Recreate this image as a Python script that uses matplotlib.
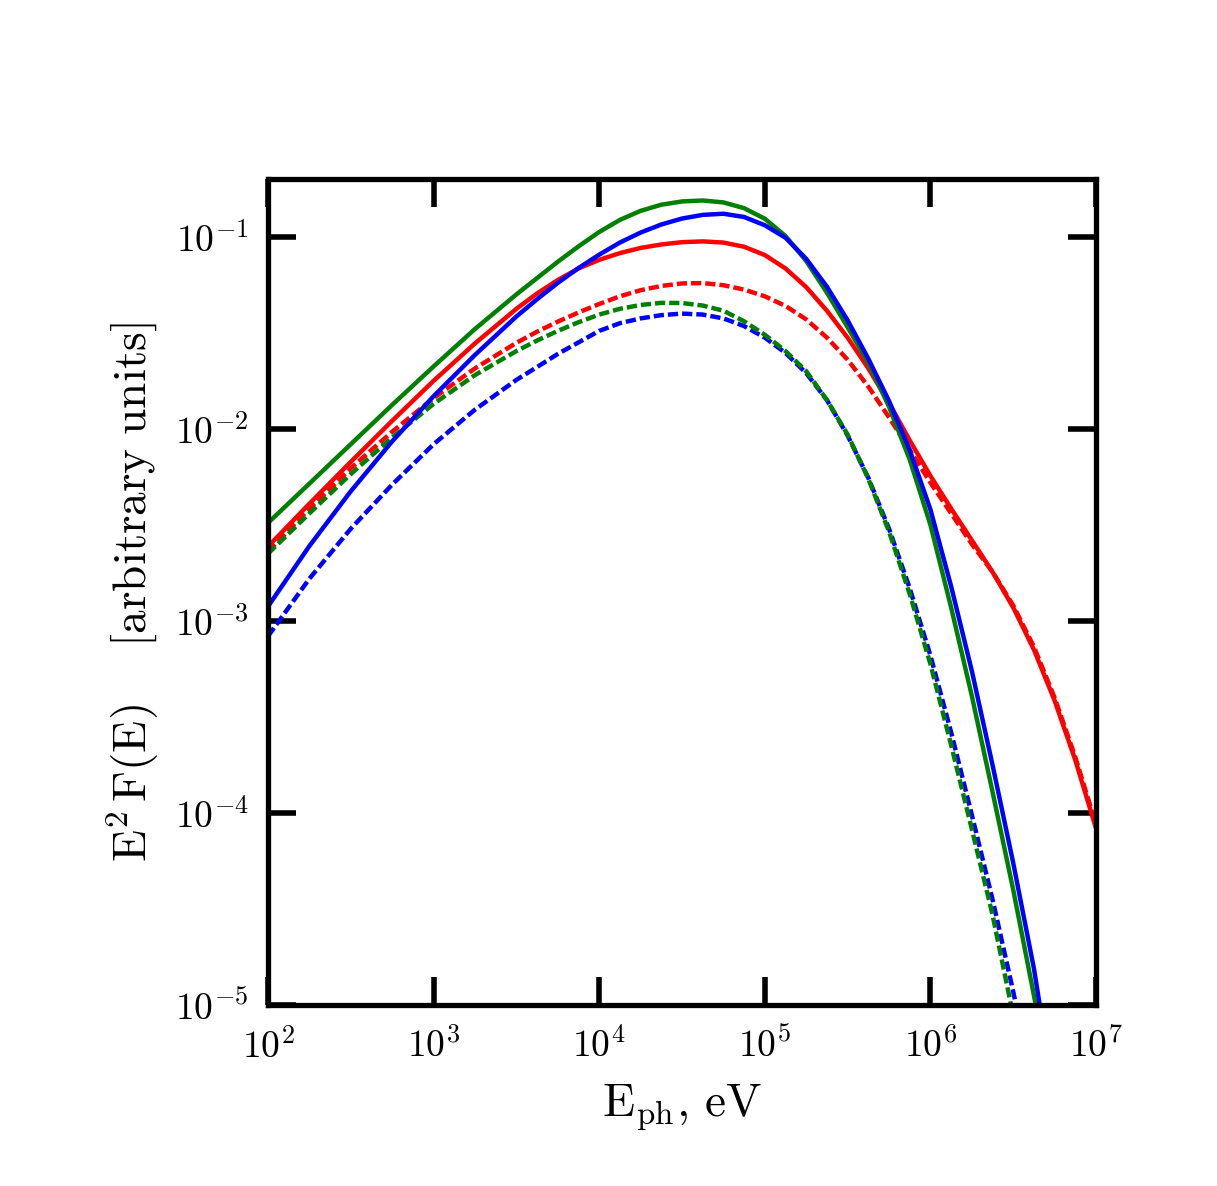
import numpy as np
import matplotlib
matplotlib.use("Agg")
import matplotlib.pyplot as plt

# ---------------------------------------------
# data (log10 E [eV], log10 E^2 F)
# ---------------------------------------------
log_e = [2.0, 2.25, 2.5, 2.75, 3.0, 3.25, 3.5, 3.625, 3.75, 3.875, 4.0,
         4.125, 4.25, 4.375, 4.5, 4.625, 4.75, 4.875, 5.0, 5.125, 5.25,
         5.375, 5.5, 5.625, 5.75, 5.875, 6.0, 6.125, 6.25, 6.375, 6.5,
         6.625, 6.75, 6.875, 7.0]

# solid curves
green_solid_e = log_e[:32] + [6.636]
green_solid = [-2.49, -2.285, -2.08, -1.875, -1.675, -1.48, -1.30, -1.215,
               -1.13, -1.05, -0.975, -0.912, -0.865, -0.833, -0.816, -0.811,
               -0.821, -0.851, -0.906, -0.996, -1.126, -1.291, -1.471, -1.655,
               -1.885, -2.16, -2.50, -2.93, -3.39, -3.89, -4.40, -4.95, -5.0]

blue_solid_e = log_e[:32] + [6.66]
blue_solid = [-2.925, -2.61, -2.325, -2.065, -1.83, -1.615, -1.415, -1.325,
              -1.24, -1.163, -1.093, -1.03, -0.978, -0.936, -0.905, -0.886,
              -0.88, -0.897, -0.94, -1.005, -1.115, -1.26, -1.435, -1.635,
              -1.855, -2.11, -2.42, -2.82, -3.26, -3.75, -4.26, -4.81, -5.0]

red_solid_e = log_e
red_solid = [-2.613, -2.39, -2.172, -1.958, -1.75, -1.555, -1.375, -1.295,
             -1.225, -1.165, -1.12, -1.085, -1.058, -1.04, -1.028, -1.024,
             -1.03, -1.052, -1.095, -1.165, -1.262, -1.385, -1.525, -1.685,
             -1.865, -2.06, -2.245, -2.415, -2.58, -2.745, -2.93, -3.15,
             -3.415, -3.725, -4.08]

# dashed curves
red_dash_e = log_e
red_dash = [-2.64, -2.415, -2.205, -2.015, -1.84, -1.685, -1.552, -1.494,
            -1.442, -1.394, -1.35, -1.31, -1.278, -1.256, -1.243, -1.241,
            -1.252, -1.275, -1.31, -1.36, -1.43, -1.525, -1.64, -1.78,
            -1.94, -2.11, -2.28, -2.44, -2.60, -2.745, -2.92, -3.135,
            -3.40, -3.71, -4.06]

green_dash_e = log_e[:30] + [6.487]
green_dash = [-2.65, -2.44, -2.235, -2.045, -1.87, -1.72, -1.595, -1.54,
              -1.49, -1.445, -1.405, -1.375, -1.355, -1.344, -1.345, -1.358,
              -1.385, -1.44, -1.51, -1.595, -1.70, -1.85, -2.03, -2.26,
              -2.535, -2.86, -3.225, -3.646, -4.084, -4.53, -5.0]

blue_dash_e = log_e[:31] + [6.517]
blue_dash = [-3.08, -2.78, -2.52, -2.29, -2.08, -1.90, -1.745, -1.678,
             -1.61, -1.55, -1.49, -1.45, -1.425, -1.408, -1.40, -1.405,
             -1.425, -1.465, -1.525, -1.605, -1.71, -1.85, -2.035, -2.255,
             -2.52, -2.83, -3.18, -3.58, -4.01, -4.45, -4.93, -5.0]

xticks = [1e2, 1e3, 1e4, 1e5, 1e6, 1e7]
xticklabels = [r'$10^{2}$', r'$10^{3}$', r'$10^{4}$', r'$10^{5}$', r'$10^{6}$', r'$10^{7}$']
yticks = [1e-5, 1e-4, 1e-3, 1e-2, 1e-1]
yticklabels = [r'$10^{-5}$', r'$10^{-4}$', r'$10^{-3}$', r'$10^{-2}$', r'$10^{-1}$']

# ---------------------------------------------
plt.rcParams['mathtext.fontset'] = 'cm'
plt.rcParams['font.family'] = 'serif'
plt.rcParams['font.serif'] = ['cmr10', 'DejaVu Serif']
plt.rcParams['axes.unicode_minus'] = False

fig = plt.figure(figsize=(12.17, 11.86), dpi=100)
ax = fig.add_axes([0.2202, 0.1526, 0.6804, 0.6965])

LW = 3.2
DASH = (2.3, 0.9)

def draw(xs, ys, color, dashed=False):
    x = 10 ** np.array(xs)
    y = 10 ** np.array(ys)
    if dashed:
        ax.plot(x, y, color=color, lw=LW, dashes=DASH, dash_capstyle='butt')
    else:
        ax.plot(x, y, color=color, lw=LW, solid_joinstyle='round')

draw(red_dash_e, red_dash, 'red', dashed=True)
draw(blue_dash_e, blue_dash, 'blue', dashed=True)
draw(green_dash_e, green_dash, 'green', dashed=True)
draw(red_solid_e, red_solid, 'red')
draw(green_solid_e, green_solid, 'green')
draw(blue_solid_e, blue_solid, 'blue')

ax.set_xscale('log')
ax.set_yscale('log')
ax.set_xlim(1e2, 1e7)
ax.set_ylim(1e-5, 0.2)

ax.set_xticks(xticks)
ax.set_xticklabels(xticklabels)
ax.set_yticks(yticks)
ax.set_yticklabels(yticklabels)
ax.minorticks_off()
ax.tick_params(which='major', direction='in', length=20, width=4.0,
               top=True, right=True, labelsize=27)
ax.tick_params(axis='x', pad=16)
ax.tick_params(axis='y', pad=14)

for s in ax.spines.values():
    s.set_linewidth(3.8)

ax.set_xlabel(r'$\mathrm{E_{ph},\,eV}$', fontsize=34, labelpad=13)
ax.set_ylabel(r'$\mathrm{E^2\,F(E)\quad\ [arbitrary\ units]}$', fontsize=34, labelpad=10)

fig.savefig('out.png', dpi=100)
